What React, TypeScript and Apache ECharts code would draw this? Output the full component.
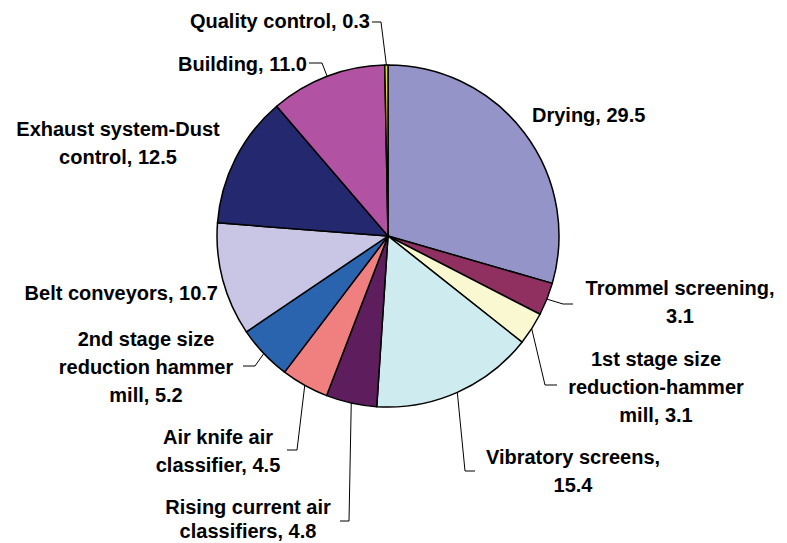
import React, { useEffect, useRef } from "react";
import * as echarts from "echarts";

// ---- data ----
const categories = [
  "Drying",
  "Trommel screening",
  "1st stage size\nreduction-hammer\nmill",
  "Vibratory screens",
  "Rising current air\nclassifiers",
  "Air knife air\nclassifier",
  "2nd stage size\nreduction hammer\nmill",
  "Belt conveyors",
  "Exhaust system-Dust\ncontrol",
  "Building",
  "Quality control",
];
const values = [29.5, 3.1, 3.1, 15.4, 4.8, 4.5, 5.2, 10.7, 12.5, 11.0, 0.3];
const colors = [
  "#9494C8",
  "#903060",
  "#FAF8D0",
  "#CEEBF0",
  "#5E1E5E",
  "#F08080",
  "#2A64AE",
  "#C8C6E4",
  "#24286E",
  "#B252A2",
  "#E4DC30",
];

// ---- layout (label placement, not data) ----
const CX = 388;
const CY = 236;
const R = 171;
type Place = {
  x: number;
  y: number;
  align: "left" | "center" | "right";
  sep: string;
  lh?: number;
  line?: number[][];
};
const placements: Place[] = [
  { x: 532, y: 115, align: "left", sep: ", " },
  { x: 680, y: 302, align: "center", sep: ",\n", line: [[563, 304], [573, 304]] },
  { x: 656, y: 387, align: "center", sep: ", ", line: [[545, 385], [557, 385]] },
  { x: 573, y: 471, align: "center", sep: ",\n", line: [[465, 471], [475, 471]] },
  { x: 248, y: 519, align: "center", sep: ", ", lh: 24, line: [[349, 521], [340, 521]] },
  { x: 218, y: 451, align: "center", sep: ", ", line: [[297, 450], [287, 450]] },
  { x: 146, y: 367, align: "center", sep: ", ", line: [[255, 366], [243, 366]] },
  { x: 218, y: 293, align: "right", sep: ", " },
  { x: 118, y: 143, align: "center", sep: ", " },
  { x: 307, y: 64, align: "right", sep: ", ", line: [[322, 63], [309, 63]] },
  { x: 370, y: 21, align: "right", sep: ", ", line: [[381, 22], [372, 22]] },
];

export default function App() {
  const ref = useRef<HTMLDivElement>(null);
  useEffect(() => {
    if (!ref.current) return;
    const chart = echarts.init(ref.current, undefined, { renderer: "svg" });
    const total = values.reduce((a, b) => a + b, 0);
    let cum = 0;
    const edges = values.map((v) => {
      const a = ((cum + v / 2) / total) * Math.PI * 2;
      cum += v;
      return [CX + R * Math.sin(a), CY - R * Math.cos(a)];
    });
    const data = categories.map((name, i) => ({
      name,
      value: values[i],
      itemStyle: { color: colors[i] },
      labelLine: { show: !!placements[i].line },
      label: { lineHeight: placements[i].lh ?? 28 },
    }));
    chart.setOption({
      animation: false,
      backgroundColor: "#ffffff",
      series: [
        {
          type: "pie",
          center: [CX, CY],
          radius: R,
          startAngle: 90,
          clockwise: true,
          avoidLabelOverlap: false,
          data,
          itemStyle: { borderColor: "#000000", borderWidth: 1.5 },
          label: {
            show: true,
            position: "outside",
            color: "#000000",
            fontFamily: "Liberation Sans, Arial, sans-serif",
            fontWeight: "bold",
            fontSize: 20,
            lineHeight: 28,
            formatter: (p: any) =>
              p.name + placements[p.dataIndex].sep + Number(p.value).toFixed(1),
          },
          labelLine: {
            show: true,
            length: 10,
            length2: 10,
            smooth: false,
            lineStyle: { color: "#000000", width: 1 },
          },
          labelLayout: (params: any) => {
            const pl = placements[params.dataIndex];
            const res: any = {
              x: pl.x,
              y: pl.y,
              align: pl.align,
              verticalAlign: "middle",
            };
            if (pl.line) {
              res.labelLinePoints = [edges[params.dataIndex], ...pl.line];
            }
            return res;
          },
        },
      ],
    });
    return () => chart.dispose();
  }, []);
  return (
    <div
      ref={ref}
      style={{ position: "fixed", left: 0, top: 0, width: 787, height: 543 }}
    />
  );
}
